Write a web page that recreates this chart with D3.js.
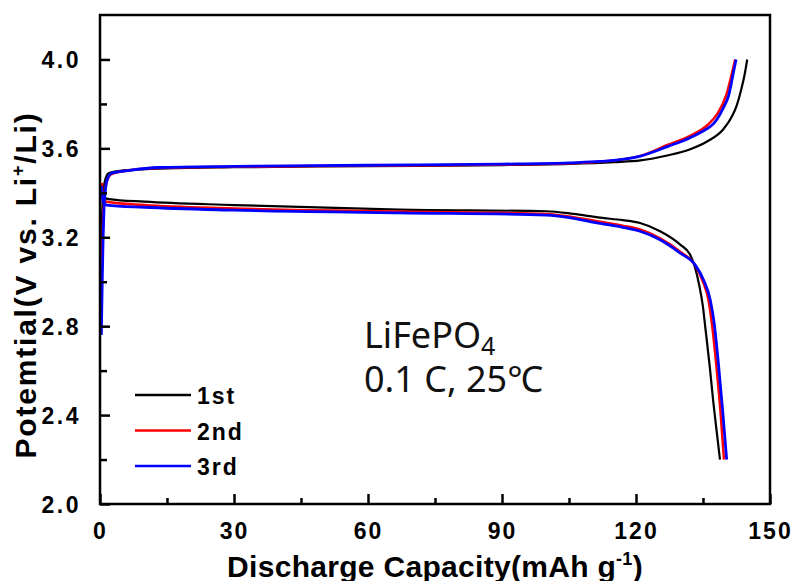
<!DOCTYPE html>
<html>
<head>
<meta charset="utf-8">
<title>LiFePO4 charge / discharge</title>
<script src="https://cdn.jsdelivr.net/npm/d3@7/dist/d3.min.js"></script>
<style>
  body { margin: 0; background: #fff; }
  .tick text { font-family: "Liberation Sans", Arial, sans-serif; font-weight: bold; }
</style>
</head>
<body>
<div id="chart"></div>
<script>
// values: [capacity mAh/g, potential V]
var charge1st = [[0.1, 2.98], [0.3, 3.2], [0.6, 3.36], [0.9, 3.43], [1.3, 3.468], [1.9, 3.488], [4, 3.498],
  [8, 3.505], [15, 3.51], [30, 3.515], [60, 3.52], [90, 3.525], [105, 3.53], [115, 3.538], [121, 3.546],
  [127, 3.568], [132, 3.595], [136, 3.632], [139.5, 3.685], [141.5, 3.745], [142.5, 3.79], [143.5, 3.86],
  [144.3, 3.93], [144.9, 4.0]];
var charge2nd = [[0.2, 2.9], [0.45, 3.1], [0.7, 3.28], [1.0, 3.39], [1.4, 3.44], [2.4, 3.482], [5.5, 3.498],
  [13, 3.512], [30, 3.517], [60, 3.522], [90, 3.527], [105, 3.533], [112, 3.54], [121, 3.566], [127, 3.615],
  [132, 3.655], [136, 3.705], [138.2, 3.755], [140.3, 3.845], [141.5, 3.94], [142.2, 4.0]];
var charge3rd = [[0.3, 2.76], [0.5, 3.0], [0.7, 3.2], [0.9, 3.33], [1.2, 3.41], [1.5, 3.452], [2.6, 3.488],
  [6.3, 3.5], [13, 3.514], [30, 3.519], [60, 3.524], [90, 3.529], [105, 3.535], [112, 3.541], [121, 3.565],
  [127, 3.608], [132, 3.647], [134.3, 3.67], [138.1, 3.73], [139.5, 3.78], [140.7, 3.835], [141.8, 3.94],
  [142.4, 4.0]];

var discharge1st = [[0.4, 3.4], [0.7, 3.38], [2, 3.372], [10, 3.36], [30, 3.345], [67, 3.324], [100, 3.317],
  [106, 3.305], [112, 3.288], [117, 3.277], [120.9, 3.264], [125.4, 3.227], [129.9, 3.167], [132.1, 3.122],
  [133.2, 3.065], [134.2, 2.98], [134.9, 2.9], [135.6, 2.78], [136.5, 2.62], [137.3, 2.46], [138.1, 2.32],
  [138.8, 2.2]];
var discharge2nd = [[0.4, 3.445], [0.75, 3.37], [1.5, 3.36], [10, 3.345], [30, 3.33], [67, 3.316], [100, 3.305],
  [106, 3.29], [112, 3.27], [117, 3.252], [120.9, 3.235], [125.4, 3.195], [129.9, 3.135], [133.2, 3.075],
  [135, 3.0], [136.2, 2.92], [137, 2.81], [138, 2.62], [138.9, 2.42], [139.7, 2.2]];
var discharge3rd = [[0.35, 3.43], [0.7, 3.36], [1.5, 3.345], [10, 3.335], [30, 3.322], [67, 3.31], [100, 3.3],
  [106, 3.285], [112, 3.262], [117, 3.245], [120.9, 3.227], [125.4, 3.189], [129.9, 3.129], [133.2, 3.077],
  [135.1, 3.009], [136.6, 2.92], [137.5, 2.814], [138.5, 2.62], [139.4, 2.42], [140.3, 2.2]];

var cycleNames = ["1st", "2nd", "3rd"];
var cycleColors = ["#000000", "#ff0000", "#0000ff"];
var xTicks = [0, 30, 60, 90, 120, 150];
var yTicks = [2.0, 2.4, 2.8, 3.2, 3.6, 4.0];

var w = 796, h = 581;
var margin = {left: 100, right: 26, top: 15, bottom: 77};

var svg = d3.select("#chart").append("svg")
  .attr("width", w)
  .attr("height", h);

var x = d3.scaleLinear().domain([0, 150]).range([margin.left, w - margin.right]);
var y = d3.scaleLinear().domain([2.0, 4.2]).range([h - margin.bottom, margin.top]);

var line = d3.line()
  .x(function(d) { return x(d[0]); })
  .y(function(d) { return y(d[1]); })
  .curve(d3.curveMonotoneX);

// curves, drawn 1st -> 3rd so blue sits on top
var series = [
  [charge1st, discharge1st],
  [charge2nd, discharge2nd],
  [charge3rd, discharge3rd]
];
var widths = [2.2, 2.5, 2.8];
series.forEach(function(s, i) {
  s.forEach(function(data) {
    svg.append("path")
      .datum(data)
      .attr("fill", "none")
      .attr("stroke", cycleColors[i])
      .attr("stroke-width", widths[i])
      .attr("d", line);
  });
});

// frame
svg.append("rect")
  .attr("x", x(0))
  .attr("y", y(4.2))
  .attr("width", x(150) - x(0))
  .attr("height", y(2.0) - y(4.2))
  .attr("fill", "none")
  .attr("stroke", "#000")
  .attr("stroke-width", 2.5);

// minor ticks first, then major ticks with labels
var xMinor = d3.axisBottom(x).tickValues(d3.range(15, 150, 30)).tickSize(-6).tickFormat("");
var yMinor = d3.axisLeft(y).tickValues(d3.range(2.2, 4.1, 0.4)).tickSize(-7).tickFormat("");
var xAxis = d3.axisBottom(x).tickValues(xTicks).tickSize(-10).tickPadding(18).tickFormat(d3.format("d"));
var yAxis = d3.axisLeft(y).tickValues(yTicks).tickSize(-10).tickPadding(19).tickFormat(d3.format(".1f"));

[xMinor, xAxis].forEach(function(a) {
  var g = svg.append("g").attr("transform", "translate(0," + y(2.0) + ")").call(a);
  g.select(".domain").remove();
  g.selectAll("line").attr("stroke-width", 2.5);
  g.selectAll("text").style("font-size", "23px").style("letter-spacing", "2px").attr("dy", "0.72em");
});
[yMinor, yAxis].forEach(function(a) {
  var g = svg.append("g").attr("transform", "translate(" + x(0) + ",0)").call(a);
  g.select(".domain").remove();
  g.selectAll("line").attr("stroke-width", 2.5);
  g.selectAll("text").style("font-size", "23px").style("letter-spacing", "2.5px").attr("dy", "0.36em");
});

// axis titles
var xt = svg.append("text")
  .attr("x", 435)
  .attr("y", 577)
  .attr("text-anchor", "middle")
  .style("font-family", "'Liberation Sans', Arial, sans-serif")
  .style("font-weight", "bold")
  .style("font-size", "30px")
  .style("letter-spacing", "0.3px")
  .text("Discharge Capacity(mAh g");
xt.append("tspan").attr("dy", -12).style("font-size", "18px").text("-1");
xt.append("tspan").attr("dy", 12).text(")");

var yt = svg.append("text")
  .attr("transform", "translate(36,285) rotate(-90)")
  .attr("text-anchor", "middle")
  .style("font-family", "'Liberation Sans', Arial, sans-serif")
  .style("font-weight", "bold")
  .style("font-size", "30px")
  .style("letter-spacing", "1.8px")
  .text("Potemtial(V vs. Li");
yt.append("tspan").attr("dy", -12).style("font-size", "18px").text("+");
yt.append("tspan").attr("dy", 12).text("/Li)");

// legend
var legend = svg.append("g");
cycleNames.forEach(function(name, i) {
  var ly = 395 + i * 35.5;
  legend.append("line")
    .attr("x1", 135).attr("x2", 191)
    .attr("y1", ly).attr("y2", ly)
    .attr("stroke", cycleColors[i])
    .attr("stroke-width", 2.5);
  legend.append("text")
    .attr("x", 197)
    .attr("y", ly + 9)
    .style("font-family", "'Liberation Sans', Arial, sans-serif")
    .style("font-weight", "bold")
    .style("font-size", "23px")
    .style("letter-spacing", "2px")
    .text(name);
});

// annotation
var note = svg.append("text")
  .attr("x", 364)
  .attr("y", 348)
  .style("font-family", "'Noto Sans', 'Noto Sans CJK KR', sans-serif")
  .style("font-size", "36px")
  .attr("fill", "#111");
note.append("tspan").text("LiFePO");
note.append("tspan").attr("dy", 7).style("font-size", "25px").text("4");
svg.append("text")
  .attr("x", 364)
  .attr("y", 392)
  .style("font-family", "'Noto Sans', 'Noto Sans CJK KR', sans-serif")
  .style("font-size", "36px")
  .attr("fill", "#111")
  .text("0.1 C, 25℃");
</script>
</body>
</html>
